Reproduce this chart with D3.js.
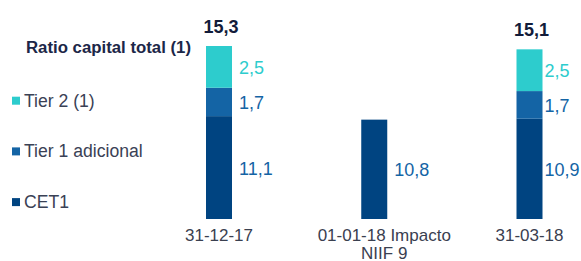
<!DOCTYPE html>
<meta charset="utf-8">
<script src="https://d3js.org/d3.v7.min.js"></script>
<style>
  body { margin: 0; background: #fff; }
  text { font-family: "Liberation Sans", Arial, sans-serif; }
</style>
<div id="chart"></div>
<script>
// data
let categories = ["31-12-17", "01-01-18 Impacto|NIIF 9", "31-03-18"];
let cet1 = [11.1, 10.8, 10.9];
let tier1 = [1.7, 0, 1.7];
let tier2 = [2.5, 0, 2.5];
let totals = ["15,3", null, "15,1"];
let seriesNames = ["Tier 2 (1)", "Tier 1 adicional", "CET1"];
let colors = {cet1: "#004481", tier1: "#1464A5", tier2: "#2DCCCD"};

let width = 581, height = 261;

let svg = d3.select("#chart").append("svg")
    .attr("width", width)
    .attr("height", height);

// x positions
let x = d3.scalePoint()
    .domain(categories)
    .range([219, 529.5]);
let bw = 26;
let last = categories[categories.length - 1];

// the original is not to scale: upper segments are stretched
let y = d3.scaleLinear()
    .domain([0, 11, 15.3])
    .range([219, 117.8, 46]);

let fmt = v => d3.format(".1f")(v).replace(".", ",");

let rows = categories.map((c, i) => ({cat: c, cet1: cet1[i], tier1: tier1[i], tier2: tier2[i], total: totals[i]}));
let keys = ["cet1", "tier1", "tier2"];
let stack = d3.stack().keys(keys)(rows);

// bars
stack.forEach(layer => {
  svg.append("g").selectAll("rect")
    .data(layer.filter(d => d[1] > d[0]))
    .join("rect")
    .attr("x", d => x(d.data.cat) - bw / 2)
    .attr("width", bw)
    .attr("y", d => y(d[1]))
    .attr("height", d => y(d[0]) - y(d[1]))
    .attr("fill", colors[layer.key]);

  // value labels
  svg.append("g").selectAll("text")
    .data(layer.filter(d => d[1] > d[0]))
    .join("text")
    .attr("x", d => x(d.data.cat) + bw / 2 + (d.data.cat == last ? 2 : 7))
    .attr("y", d => (y(d[0]) + y(d[1])) / 2 + 7)
    .attr("font-size", 18)
    .attr("fill", layer.key == "tier2" ? colors.tier2 : colors.tier1)
    .text(d => fmt(d.data[layer.key]));
});

// totals
svg.append("g").selectAll("text")
  .data(rows.filter(d => d.total))
  .join("text")
  .attr("x", d => x(d.cat) + 2)
  .attr("y", d => y(d.cet1 + d.tier1 + d.tier2) - 13)
  .attr("text-anchor", "middle")
  .attr("font-size", 18)
  .attr("font-weight", "bold")
  .attr("fill", "#121c3a")
  .text(d => d.total);

// category labels
svg.append("g").selectAll("text")
  .data(categories)
  .join("text")
  .attr("text-anchor", "middle")
  .attr("font-size", 17)
  .attr("fill", "#3a4050")
  .each(function(c) {
    let lines = c.split("|");
    let t = d3.select(this);
    lines.forEach((l, j) => {
      t.append("tspan")
        .attr("x", x(c) + (lines.length > 1 ? 10 : 0))
        .attr("y", 240.5 + j * 18)
        .text(l);
    });
  });

// title + legend
svg.append("text")
  .attr("x", 26)
  .attr("y", 53)
  .attr("font-size", 16.8)
  .attr("font-weight", "bold")
  .attr("fill", "#1c2748")
  .text("Ratio capital total (1)");

let legColors = [colors.tier2, colors.tier1, colors.cet1];
let leg = svg.append("g").selectAll("g")
  .data(seriesNames)
  .join("g")
  .attr("transform", (d, i) => "translate(12," + (106.7 + i * 50.7) + ")");
leg.append("rect")
  .attr("y", -10)
  .attr("width", 8)
  .attr("height", 8)
  .attr("fill", (d, i) => legColors[i]);
leg.append("text")
  .attr("x", 12)
  .attr("font-size", 17.6)
  .attr("fill", "#3a4155")
  .text(d => d);
</script>
